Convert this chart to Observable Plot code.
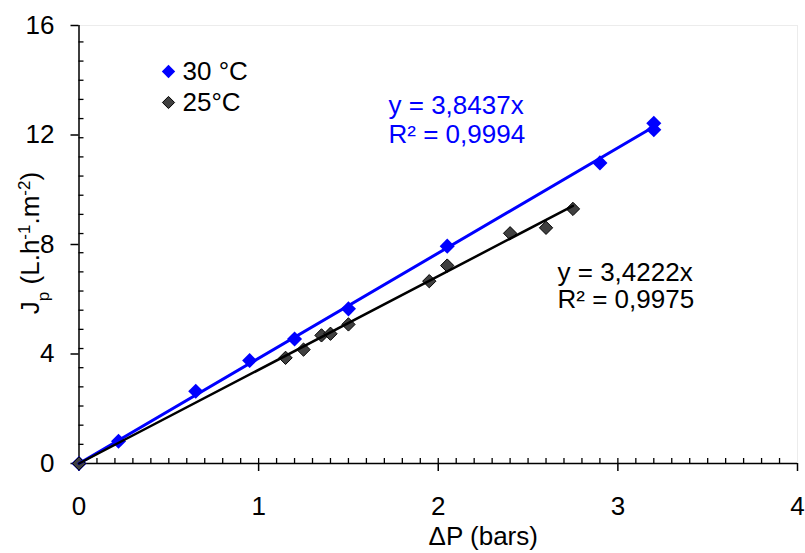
<!DOCTYPE html>
<html><head><meta charset="utf-8">
<script src="https://cdn.jsdelivr.net/npm/d3@7"></script>
<script src="https://cdn.jsdelivr.net/npm/@observablehq/plot@0.6"></script>
<style>body{margin:0;background:#fff;}</style>
</head><body><div id="chart"></div>
<script>
// ---- data ----
const x30 = [0, 0.22, 0.65, 0.95, 1.2, 1.5, 2.05, 2.9, 3.2, 3.2];
const y30 = [0, 0.81, 2.64, 3.76, 4.55, 5.65, 7.94, 10.98, 12.43, 12.19];
const x25 = [0, 1.15, 1.25, 1.35, 1.4, 1.5, 1.95, 2.05, 2.4, 2.6, 2.75];
const y25 = [0, 3.86, 4.16, 4.68, 4.74, 5.08, 6.66, 7.23, 8.41, 8.61, 9.3];
const seriesNames = ["30 °C", "25°C"];
const slopes = [3.8437, 3.4222];
const r2 = ["0,9994", "0,9975"];
const xMajor = [0, 1, 2, 3, 4];
const yMajor = [0, 4, 8, 12, 16];
const xMinor = d3.range(1, 40).map(i => i / 10);
const yMinor = d3.range(1, 23).map(i => +(i * 0.7).toFixed(1));

const pts30 = x30.map((x, i) => ({x, y: y30[i]}));
const pts25 = x25.map((x, i) => ({x, y: y25[i]}));
const trend = (xs, k) => [0, d3.max(xs)].map(x => ({x, y: k * x}));
const eqText = (k, r) => `y = ${String(k).replace(".", ",")}x\nR² = ${r}`;

const FONT = "Liberation Sans, Arial, sans-serif";
const FS = 26;
const blue = "#0000ff";

const chart = Plot.plot({
  width: 805, height: 553,
  marginLeft: 78.5, marginRight: 8, marginTop: 25, marginBottom: 90,
  style: {fontFamily: FONT, fontSize: FS + "px", color: "black", background: "white"},
  x: {domain: [0, 4]},
  y: {domain: [0, 16]},
  marks: [
    Plot.frame({stroke: "#ececec"}),
    // minor ticks (inside)
    Plot.axisX({ticks: xMinor, tickSize: 5, dy: -5, tickFormat: () => "", label: null, strokeWidth: 1.3}),
    Plot.axisY({ticks: yMinor, tickSize: 5, dx: 5, tickFormat: () => "", label: null, strokeWidth: 1.3}),
    // major ticks (outside) with labels
    Plot.axisX({ticks: xMajor, tickSize: 8, tickPadding: 25, fontSize: FS, label: null, strokeWidth: 1.5, tickFormat: d => d}),
    Plot.axisY({ticks: yMajor, tickSize: 8, tickPadding: 16.5, fontSize: FS, label: null, strokeWidth: 1.5, tickFormat: d => d}),
    Plot.ruleY([0], {stroke: "black", strokeWidth: 1.5}),
    Plot.ruleX([0], {stroke: "black", strokeWidth: 1.5}),
    // data
    Plot.dot(pts30, {x: "x", y: "y", symbol: "diamond2", r: 6.8, fill: blue, stroke: "none"}),
    Plot.dot(pts25, {x: "x", y: "y", symbol: "diamond2", r: 6, fill: "#404040", stroke: "black", strokeWidth: 1}),
    Plot.line(trend(x30, slopes[0]), {x: "x", y: "y", stroke: blue, strokeWidth: 3}),
    Plot.line(trend(x25, slopes[1]), {x: "x", y: "y", stroke: "black", strokeWidth: 2.5}),
    // equations
    Plot.text([eqText(slopes[0], r2[0])], {frameAnchor: "top-left", dx: 309.5, dy: 69, textAnchor: "start", lineAnchor: "top", lineHeight: 1.08, fill: blue, fontSize: FS}),
    Plot.text([eqText(slopes[1], r2[1])], {frameAnchor: "top-left", dx: 478.5, dy: 236, textAnchor: "start", lineAnchor: "top", lineHeight: 1.05, fill: "black", fontSize: FS}),
    // legend
    Plot.dot([0], {frameAnchor: "top-left", dx: 89.5, dy: 46, symbol: "diamond2", r: 6, fill: blue, stroke: "none"}),
    Plot.dot([0], {frameAnchor: "top-left", dx: 89.5, dy: 77, symbol: "diamond2", r: 5.5, fill: "#404040", stroke: "black", strokeWidth: 1}),
    Plot.text([seriesNames[0]], {frameAnchor: "top-left", dx: 103.5, dy: 46, textAnchor: "start", lineAnchor: "middle", fontSize: FS}),
    Plot.text([seriesNames[1]], {frameAnchor: "top-left", dx: 103.5, dy: 77, textAnchor: "start", lineAnchor: "middle", fontSize: FS}),
    // x-axis title
    Plot.text(["ΔP (bars)"], {frameAnchor: "bottom", dx: 45, dy: 73, lineAnchor: "middle", fontSize: FS})
  ]
});
document.getElementById("chart").appendChild(chart);

// y-axis title with subscript / superscripts
const svg = d3.select(chart);
const t = svg.append("text")
  .attr("transform", "translate(39,243) rotate(-90)")
  .attr("text-anchor", "middle")
  .attr("font-size", FS)
  .attr("font-family", FONT)
  .attr("fill", "black");
t.append("tspan").text("J");
t.append("tspan").attr("baseline-shift", "sub").attr("font-size", 17).text("p");
t.append("tspan").text(" (L.h");
t.append("tspan").attr("baseline-shift", "super").attr("font-size", 17).text("-1");
t.append("tspan").text(".m");
t.append("tspan").attr("baseline-shift", "super").attr("font-size", 17).text("-2");
t.append("tspan").text(")");
</script>
</body></html>
